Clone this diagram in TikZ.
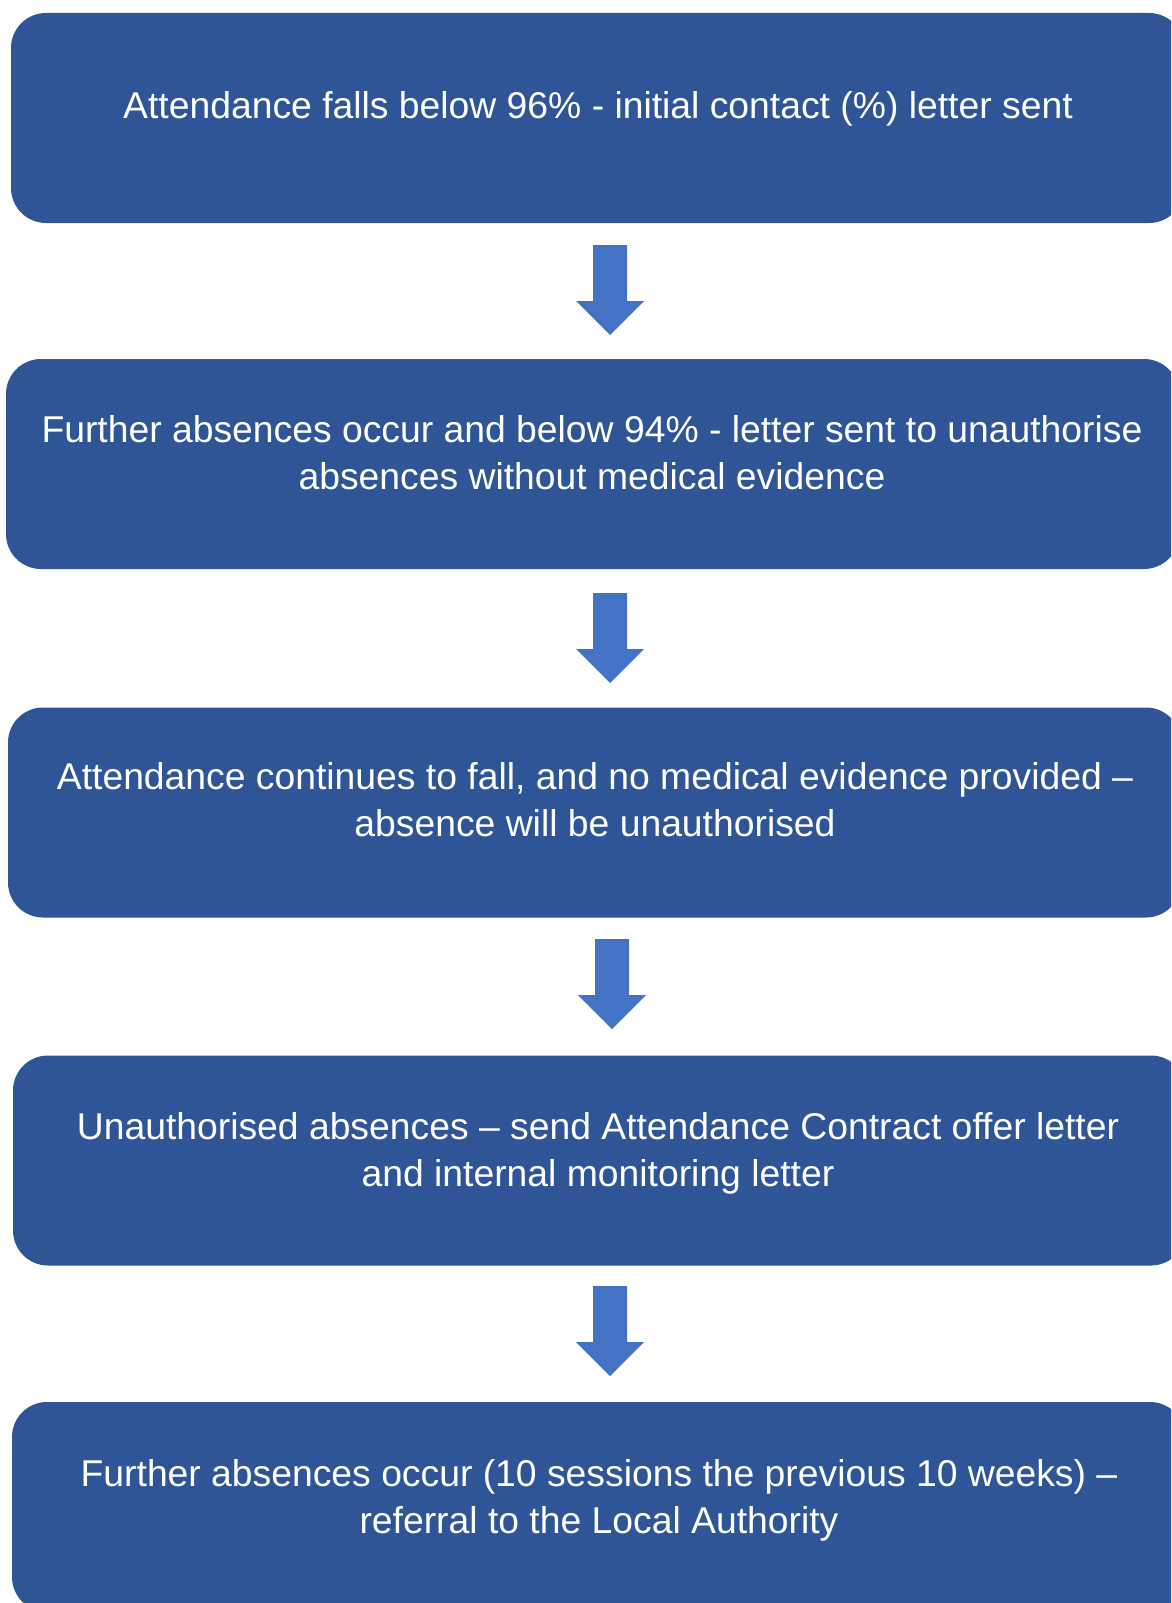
\documentclass[tikz,border=0pt]{standalone}
\usepackage{fontspec}
\setmainfont{Liberation Sans}
\definecolor{boxblue}{HTML}{2F5597}
\definecolor{arrowblue}{HTML}{4472C4}
\tikzset{
  stagebox/.style={rectangle, rounded corners=35pt, fill=boxblue, draw=none,
    minimum width=1173pt, minimum height=210pt, inner sep=0pt},
  linetext/.style={anchor=base, text=white, inner sep=0pt,
    font=\fontsize{37.3}{47}\selectfont},
  downarrow/.pic={\fill[arrowblue] (-17,0) -- (17,0) -- (17,56) -- (34,56) -- (0,90) -- (-34,56) -- (-17,56) -- cycle;}
}
\begin{document}
\begin{tikzpicture}[x=1pt,y=-1pt]
\useasboundingbox (0,0) rectangle (1171,1603);
\clip (0,0) rectangle (1171,1603);
% boxes
\node[stagebox] (b1) at (597.5,118) {};
\node[stagebox] (b2) at (592.5,464) {};
\node[stagebox] (b3) at (594.5,812.5) {};
\node[stagebox] (b4) at (599.5,1160.5) {};
\node[stagebox] (b5) at (598.5,1507) {};
% texts
\node[linetext] (t1) at (598,118) {Attendance falls below 96\% - initial contact (\%) letter sent};
\node[linetext] (t2a) at (592,442) {Further absences occur and below 94\% - letter sent to unauthorise};
\node[linetext] (t2b) at (592,489) {absences without medical evidence};
\node[linetext] (t3a) at (595,789.5) {Attendance continues to fall, and no medical evidence provided –};
\node[linetext] (t3b) at (595,836.5) {absence will be unauthorised};
\node[linetext] (t4a) at (598,1139) {Unauthorised absences – send Attendance Contract offer letter};
\node[linetext] (t4b) at (598,1186) {and internal monitoring letter};
\node[linetext] (t5a) at (599,1486) {Further absences occur (10 sessions the previous 10 weeks) –};
\node[linetext] (t5b) at (599,1533) {referral to the Local Authority};
% arrows
\coordinate (a1) at (610,245);
\coordinate (a2) at (610,593);
\coordinate (a3) at (612,939);
\coordinate (a4) at (610,1286);
\pic at (a1) {downarrow};
\pic at (a2) {downarrow};
\pic at (a3) {downarrow};
\pic at (a4) {downarrow};
\end{tikzpicture}
\end{document}
